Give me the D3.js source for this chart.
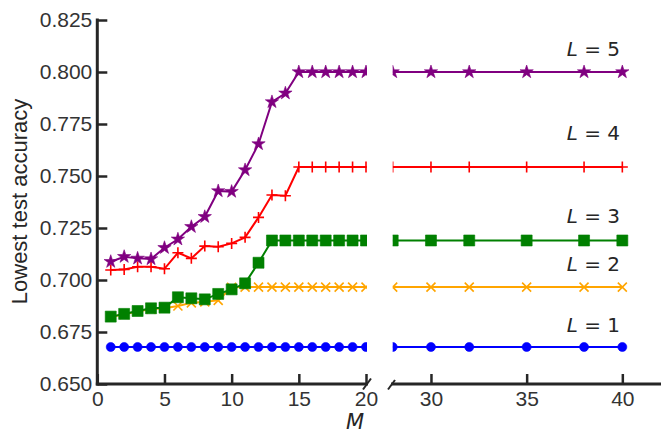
<!DOCTYPE html>
<html><head><meta charset="utf-8">
<script src="https://cdn.jsdelivr.net/npm/d3@7"></script>
<style>
body{margin:0;background:#fff;}
svg{display:block;}
</style></head>
<body>
<svg id="chart" width="661" height="434"></svg>
<script>
// ---- data ----
const mLeft = [1,2,3,4,5,6,7,8,9,10,11,12,13,14,15,16,17,18,19,20];
const mRight = [28,30,32,35,38,40];
const L1Left = [0.6678,0.6678,0.6678,0.6678,0.6678,0.6678,0.6678,0.6678,0.6678,0.6678,0.6678,0.6678,0.6678,0.6678,0.6678,0.6678,0.6678,0.6678,0.6678,0.6678];
const L2Left = [0.6822,0.6835,0.6849,0.6860,0.6864,0.6875,0.6890,0.6895,0.6902,0.6965,0.6966,0.6966,0.6966,0.6966,0.6966,0.6966,0.6966,0.6966,0.6966,0.6966];
const L3Left = [0.6824,0.6837,0.6851,0.6864,0.6867,0.6917,0.6912,0.6907,0.6933,0.6955,0.6984,0.7083,0.7190,0.7190,0.7190,0.7190,0.7190,0.7190,0.7190,0.7190];
const L4Left = [0.7048,0.7051,0.7064,0.7064,0.7054,0.7131,0.7104,0.7163,0.7160,0.7176,0.7205,0.7301,0.7409,0.7405,0.7543,0.7543,0.7543,0.7543,0.7543,0.7543];
const L5Left = [0.7088,0.7112,0.7104,0.7101,0.7155,0.7196,0.7256,0.7304,0.7428,0.7425,0.7529,0.7654,0.7856,0.7898,0.8000,0.8000,0.8000,0.8000,0.8000,0.8000];
const L1Right = [0.6678,0.6678,0.6678,0.6678,0.6678,0.6678];
const L2Right = [0.6966,0.6966,0.6966,0.6966,0.6966,0.6966];
const L3Right = [0.7190,0.7190,0.7190,0.7190,0.7190,0.7190];
const L4Right = [0.7543,0.7543,0.7543,0.7543,0.7543,0.7543];
const L5Right = [0.8000,0.8000,0.8000,0.8000,0.8000,0.8000];
const yTicks = [0.650,0.675,0.700,0.725,0.750,0.775,0.800,0.825];
const xTicksLeft = [0,5,10,15,20];
const xTicksRight = [30,35,40];
const seriesNames = ["L = 1","L = 2","L = 3","L = 4","L = 5"];
const seriesColors = ["#0000ff","#ffa500","#008000","#ff0000","#800080"];
const seriesMarkers = ["circle","x","square","plus","star"];

const leftVals = [L1Left,L2Left,L3Left,L4Left,L5Left];
const rightVals = [L1Right,L2Right,L3Right,L4Right,L5Right];

// ---- layout ----
const svg = d3.select("#chart");
const axisColor = "#262626";
const y = d3.scaleLinear().domain([0.650,0.825]).range([384,20]);
const xL = d3.scaleLinear().domain([0,20]).range([97.3,366]);
const xR = d3.scaleLinear().domain([28,42]).range([392.7,660.6]);

const defs = svg.append("defs");
defs.append("clipPath").attr("id","clipL").append("rect").attr("x",97).attr("y",0).attr("width",367-97).attr("height",434);
defs.append("clipPath").attr("id","clipR").append("rect").attr("x",392.7).attr("y",0).attr("width",300).attr("height",434);

function markerPath(type){
  switch(type){
    case "circle": return d3.symbol(d3.symbolCircle, 64)();
    case "square": return "M-5.5,-5.5H5.5V5.5H-5.5Z";
    case "star": return d3.symbol(d3.symbolStar, 55)();
    case "plus": return "M-5.5,0H5.5M0,-5.5V5.5";
    case "x": return "M-4.5,-4.5L4.5,4.5M-4.5,4.5L4.5,-4.5";
  }
}

function drawPanel(xs, xScale, valsList, clipId){
  const g = svg.append("g").attr("clip-path", `url(#${clipId})`);
  valsList.forEach((vals, i) => {
    const pts = xs.map((m, j) => [m, vals[j]]);
    const line = d3.line().x(d => xScale(d[0])).y(d => y(d[1]));
    g.append("path").datum(pts).attr("d", line)
      .attr("fill","none").attr("stroke", seriesColors[i]).attr("stroke-width", 2);
    const type = seriesMarkers[i];
    const filled = (type === "circle" || type === "square" || type === "star");
    g.selectAll(null).data(pts).join("path")
      .attr("transform", d => `translate(${xScale(d[0])},${y(d[1])})`)
      .attr("d", markerPath(type))
      .attr("fill", filled ? seriesColors[i] : "none")
      .attr("stroke", seriesColors[i])
      .attr("stroke-opacity", filled ? 0.6 : 1)
      .attr("stroke-width", filled ? 1 : 1.6);
  });
}

drawPanel(mLeft, xL, leftVals, "clipL");
drawPanel(mRight, xR, rightVals, "clipR");

// ---- axes ----
function styleAxis(g){
  g.select(".domain").attr("stroke", axisColor).attr("stroke-width", 3);
  g.selectAll(".tick line").attr("stroke", axisColor).attr("stroke-width", 2.5);
  g.selectAll(".tick text").attr("fill", "#333").attr("font-family","'Liberation Sans', Arial, sans-serif").attr("font-size", 21);
}

const yAxis = d3.axisLeft(y).tickValues(yTicks).tickFormat(d3.format(".3f")).tickSizeInner(-10).tickSizeOuter(0).tickPadding(5);
svg.append("g").attr("transform","translate(97.3,0)").call(yAxis).call(styleAxis)
  .call(g => g.select(".domain").attr("d","M0,18.5V385.5"));

const xAxisL = d3.axisBottom(xL).tickValues(xTicksLeft).tickFormat(d3.format("d")).tickSizeInner(-10).tickSizeOuter(0).tickPadding(7);
svg.append("g").attr("transform","translate(0,384)").call(xAxisL).call(styleAxis)
  .call(g => g.select(".domain").attr("d",`M${xL(0)-1.5},0H368`));

const xAxisR = d3.axisBottom(xR).tickValues(xTicksRight).tickFormat(d3.format("d")).tickSizeInner(-10).tickSizeOuter(0).tickPadding(7);
svg.append("g").attr("transform","translate(0,384)").call(xAxisR).call(styleAxis)
  .call(g => g.select(".domain").attr("d",`M391,0H661`));

// break marks
svg.append("line").attr("x1",363).attr("y1",389.5).attr("x2",371).attr("y2",378.5).attr("stroke",axisColor).attr("stroke-width",2);
svg.append("line").attr("x1",388).attr("y1",389.5).attr("x2",395).attr("y2",380).attr("stroke",axisColor).attr("stroke-width",2);

// axis labels
svg.append("text").attr("transform","translate(27,201.5) rotate(-90)").attr("text-anchor","middle")
  .attr("font-family","'Liberation Sans', Arial, sans-serif").attr("font-size",22).attr("fill","#262626")
  .text("Lowest test accuracy");
svg.append("text").attr("x",355).attr("y",429).attr("text-anchor","middle")
  .attr("font-family","'DejaVu Sans', sans-serif").attr("font-style","italic").attr("font-size",21).attr("fill","#262626")
  .text("M");

// series labels
const labelY = [332,271,223,140,56];
seriesNames.forEach((name, i) => {
  const t = svg.append("text").attr("x",620).attr("y",labelY[i]).attr("text-anchor","end")
    .attr("font-family","'DejaVu Sans', sans-serif").attr("font-size",20).attr("fill","#262626");
  const parts = name.split(" ");
  t.append("tspan").attr("font-style","italic").text(parts[0]);
  t.append("tspan").text(" " + parts.slice(1).join(" "));
});
</script>
</body></html>
